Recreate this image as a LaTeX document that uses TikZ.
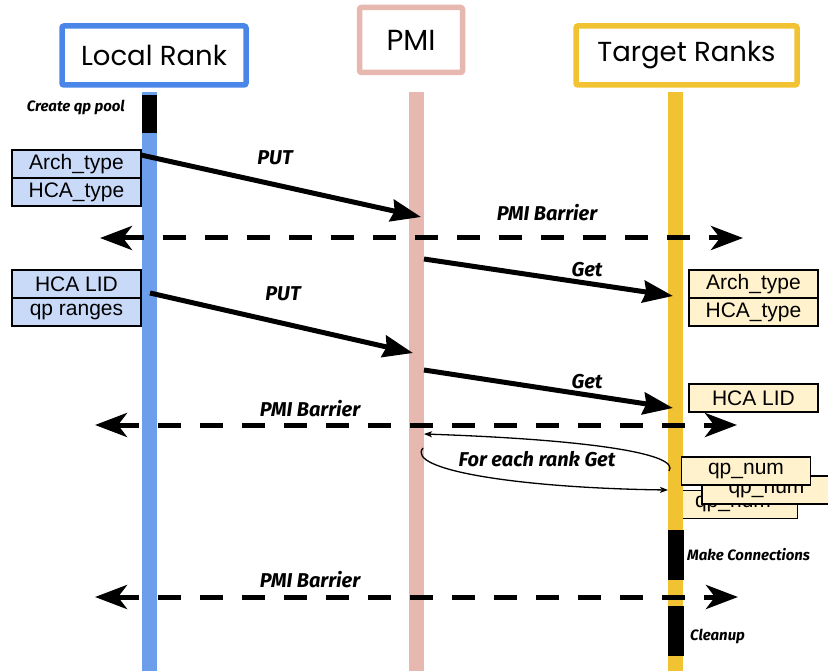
\documentclass[tikz,border=0pt]{standalone}
\usepackage{fontspec}
\setmainfont{Liberation Sans}
\newfontfamily\headfont{Poppins}
\newfontfamily\notefont{Fira Sans}
\usetikzlibrary{arrows.meta}
\definecolor{lrblue}{HTML}{4A86E8}
\definecolor{lrline}{HTML}{6D9EEB}
\definecolor{pmipink}{HTML}{E6B8AF}
\definecolor{tgyellow}{HTML}{F1C232}
\definecolor{boxblue}{HTML}{C9DAF8}
\definecolor{boxyellow}{HTML}{FFF2CC}
\tikzset{
  header/.style={draw, fill=white, line width=5.5pt, rounded corners=2pt, inner sep=0pt,
    font=\headfont\fontsize{27.5}{31}\selectfont},
  lifeline/.style={line width=15pt},
  activity/.style={draw=none, fill=black, minimum width=15pt, inner sep=0pt},
  databox/.style={draw=black, line width=1.4pt, inner sep=0pt, minimum width=129pt,
    minimum height=28pt, font=\fontsize{21}{24}\selectfont},
  leftbox/.style={databox, fill=boxblue},
  rightbox/.style={databox, fill=boxyellow},
  msg/.style={line width=5pt, -{Stealth[length=30pt,width=22pt,inset=3pt]}},
  barrier/.style={line width=5pt, dash pattern=on 23pt off 19pt,
    {Stealth[length=32pt,width=24pt,inset=9pt]}-{Stealth[length=32pt,width=24pt,inset=9pt]}},
  loopmsg/.style={line width=1.3pt, -{Stealth[length=8pt,width=6pt,inset=2pt]}},
  note/.style={font=\notefont\bfseries\itshape\fontsize{20}{23}\selectfont, inner sep=0pt},
  smallnote/.style={font=\notefont\bfseries\itshape\fontsize{15}{18}\selectfont, inner sep=0pt}
}
\begin{document}
\begin{tikzpicture}[x=1pt,y=-1pt]
\useasboundingbox (0,0) rectangle (828,671);

% participants
\node[header, draw=lrblue, minimum width=184pt, minimum height=59pt] (lr) at (154,55.5) {Local Rank};
\node[header, draw=pmipink, minimum width=103pt, minimum height=65pt, font=\headfont\fontsize{29}{33}\selectfont] (pmi) at (411,40) {PMI};
\node[header, draw=tgyellow, minimum width=221pt, minimum height=59pt] (tr) at (686.5,55.5) {Target Ranks};

% the hidden third qp_num box sits behind the target lifeline
\node[rightbox] (qp3) at (733,504.5) {qp\_num};

% lifelines
\coordinate (lrtop) at (149.5,92);  \coordinate (lrbot) at (149.5,671);
\coordinate (pmitop) at (416.5,92); \coordinate (pmibot) at (416.5,671);
\coordinate (trtop) at (675.5,92);  \coordinate (trbot) at (675.5,671);
\draw[lifeline, lrline] (lrtop) -- (lrbot);
\draw[lifeline, pmipink] (pmitop) -- (pmibot);
\draw[lifeline, tgyellow] (trtop) -- (trbot);

% activity bars
\node[activity, minimum height=38pt] (pool) at (149.5,114) {};
\node[activity, minimum height=50pt, minimum width=16pt] (conn) at (676,555) {};
\node[activity, minimum height=50pt, minimum width=16pt] (clean) at (676,631) {};
\node[smallnote, anchor=east] (poolt) at (125,107) {Create qp pool};
\node[smallnote, anchor=west] (connt) at (687,555) {Make Connections};
\node[smallnote, anchor=west] (cleant) at (690,636) {Cleanup};

% local data
\node[leftbox] (la) at (76.5,164) {Arch\_type};
\node[leftbox] (lh) at (76.5,192) {HCA\_type};
\node[leftbox] (ll) at (76.5,284) {HCA LID};
\node[leftbox] (lq) at (76.5,312) {qp ranges};

% target data
\node[rightbox] (ra) at (753.5,284) {Arch\_type};
\node[rightbox] (rh) at (753.5,312) {HCA\_type};
\node[rightbox] (rl) at (753.5,398) {HCA LID};
\node[rightbox] (qp2) at (766.5,490) {qp\_num};
\node[rightbox] (qp1) at (746,471) {qp\_num};

% messages
\coordinate (put1s) at (141,155);  \coordinate (put1e) at (421,217);
\coordinate (put2s) at (150,293);  \coordinate (put2e) at (413,353);
\coordinate (get1s) at (424,259);  \coordinate (get1e) at (673,296);
\coordinate (get2s) at (424,370);  \coordinate (get2e) at (673,408);
\draw[msg] (put1s) -- (put1e);
\draw[msg] (put2s) -- (put2e);
\draw[msg] (get1s) -- (get1e);
\draw[msg] (get2s) -- (get2e);
\node[note] (put1t) at (275,158) {PUT};
\node[note] (put2t) at (283,294) {PUT};
\node[note] (get1t) at (587,270) {Get};
\node[note] (get2t) at (587,382) {Get};

% barriers
\coordinate (b1l) at (100,238); \coordinate (b1r) at (743,238);
\coordinate (b2l) at (95,425);  \coordinate (b2r) at (737,425);
\coordinate (b3l) at (95,597);  \coordinate (b3r) at (738,597);
\draw[barrier] (b1l) -- (b1r);
\draw[barrier] (b2l) -- (b2r);
\draw[barrier] (b3l) -- (b3r);
\node[note] (b1t) at (547,213) {PMI Barrier};
\node[note] (b2t) at (310,409) {PMI Barrier};
\node[note] (b3t) at (310,580) {PMI Barrier};

% per-rank get loop
\coordinate (lpa) at (669,471); \coordinate (lpb) at (424,434);
\coordinate (lpc) at (423,448); \coordinate (lpd) at (668,490);
\draw[loopmsg] (lpa) .. controls (680,455) and (600,440) .. (lpb);
\draw[loopmsg] (lpc) .. controls (405,470) and (520,488) .. (lpd);
\node[note] (loopt) at (537,459) {For each rank Get};
\end{tikzpicture}
\end{document}
